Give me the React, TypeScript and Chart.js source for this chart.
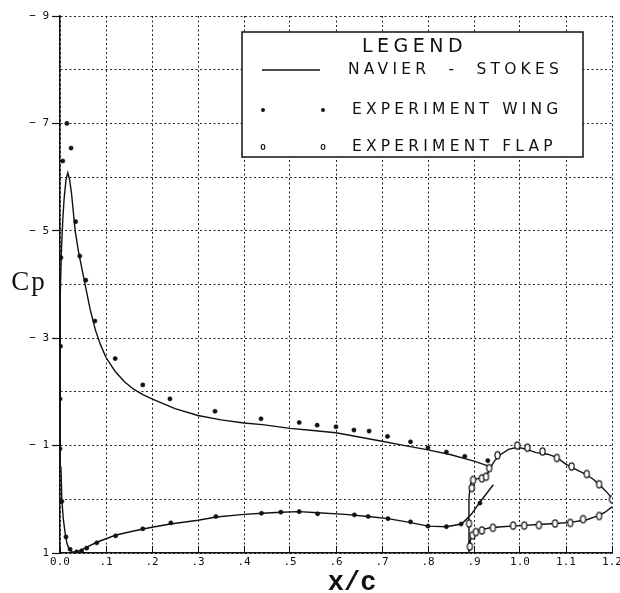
import { useEffect, useRef } from 'react';
import { Chart, registerables } from 'chart.js';

Chart.register(...registerables);

// ---- axis text ----
const xTickLabels = ['0.0', '.1', '.2', '.3', '.4', '.5', '.6', '.7', '.8', '.9', '1.0', '1.1', '1.2'];
const yTickValues = [-9, -8, -7, -6, -5, -4, -3, -2, -1, 0, 1];
const yTickLabels = ['− 9', '', '− 7', '', '− 5', '', '− 3', '', '− 1', '', '1'];
const xTitle = 'x/c';
const yTitle = 'Cp';
const legendTitle = 'LEGEND';
const seriesNames = ['NAVIER  -  STOKES', 'EXPERIMENT WING', 'EXPERIMENT FLAP'];

// ---- Navier-Stokes Cp, main wing: lower trailing edge -> leading edge -> upper trailing edge ----
const wingNavierStokes: [number, number][] = [
  [0.942, -0.27], [0.913, 0.05], [0.895, 0.27], [0.873, 0.46], [0.84, 0.51], [0.8, 0.5],
  [0.76, 0.43], [0.713, 0.36], [0.67, 0.32], [0.62, 0.28], [0.56, 0.25], [0.52, 0.23],
  [0.48, 0.24], [0.44, 0.26], [0.4, 0.28], [0.34, 0.33], [0.3, 0.39], [0.24, 0.46],
  [0.2, 0.52], [0.16, 0.59], [0.12, 0.67], [0.08, 0.8], [0.058, 0.89], [0.047, 0.94],
  [0.036, 0.98], [0.027, 0.98], [0.02, 0.93], [0.015, 0.82], [0.011, 0.62], [0.007, 0.35],
  [0.004, 0.0], [0.002, -0.6], [0.001, -1.4], [0.0, -2.2], [0.0, -3.0], [0.001, -3.8],
  [0.003, -4.6], [0.006, -5.2], [0.009, -5.6], [0.013, -5.95], [0.017, -6.08], [0.021, -5.95],
  [0.025, -5.7], [0.029, -5.35], [0.033, -5.0], [0.04, -4.62], [0.051, -4.15], [0.066, -3.52],
  [0.077, -3.15], [0.088, -2.88], [0.1, -2.64], [0.12, -2.38], [0.14, -2.19], [0.16, -2.05],
  [0.18, -1.95], [0.2, -1.87], [0.25, -1.69], [0.3, -1.56], [0.35, -1.48], [0.4, -1.42],
  [0.44, -1.39], [0.5, -1.32], [0.55, -1.28], [0.6, -1.24], [0.65, -1.16], [0.7, -1.08],
  [0.75, -1.0], [0.8, -0.92], [0.85, -0.83], [0.9, -0.71], [0.935, -0.61],
];

// ---- Navier-Stokes Cp, flap: lower trailing edge -> leading edge -> upper trailing edge ----
const flapNavierStokes: [number, number][] = [
  [1.2, 0.14], [1.185, 0.24], [1.172, 0.3], [1.145, 0.38], [1.11, 0.43], [1.076, 0.45],
  [1.04, 0.47], [1.0, 0.49], [0.96, 0.51], [0.935, 0.53], [0.915, 0.57], [0.9, 0.62],
  [0.893, 0.72], [0.889, 0.98], [0.889, 0.5], [0.889, 0.0], [0.891, -0.2], [0.895, -0.36],
  [0.915, -0.4], [0.928, -0.45], [0.935, -0.58], [0.945, -0.72], [0.957, -0.83], [0.975, -0.93],
  [0.995, -0.97], [1.015, -0.93], [1.035, -0.87], [1.06, -0.84], [1.08, -0.78], [1.1, -0.65],
  [1.12, -0.56], [1.14, -0.48], [1.16, -0.37], [1.175, -0.25], [1.19, -0.12], [1.2, -0.02],
];

// ---- measured pressures on the wing ----
const wingUpperExperiment: [number, number][] = [
  [0.006, -6.3], [0.015, -7.0], [0.024, -6.54], [0.034, -5.17], [0.043, -4.53], [0.056, -4.08],
  [0.076, -3.32], [0.12, -2.62], [0.18, -2.13], [0.239, -1.87], [0.337, -1.64], [0.437, -1.5],
  [0.52, -1.43], [0.559, -1.38], [0.6, -1.35], [0.639, -1.29], [0.672, -1.27], [0.712, -1.17],
  [0.762, -1.07], [0.8, -0.96], [0.84, -0.88], [0.88, -0.8], [0.93, -0.72],
];
const wingLowerExperiment: [number, number][] = [
  [0.002, -4.5], [0.001, -2.85], [0.0, -1.87], [0.0, -0.94], [0.004, 0.04], [0.013, 0.7],
  [0.022, 0.93], [0.036, 0.98], [0.047, 0.96], [0.058, 0.91], [0.08, 0.81], [0.121, 0.68],
  [0.18, 0.55], [0.241, 0.44], [0.339, 0.32], [0.438, 0.26], [0.48, 0.24], [0.52, 0.23],
  [0.56, 0.27], [0.64, 0.29], [0.67, 0.32], [0.713, 0.36], [0.762, 0.42], [0.8, 0.5],
  [0.84, 0.51], [0.872, 0.46], [0.913, 0.07],
];

// ---- measured pressures on the flap ----
const flapUpperExperiment: [number, number][] = [
  [0.891, 0.88], [0.889, 0.45], [0.895, -0.21], [0.898, -0.36], [0.917, -0.39], [0.926, -0.42],
  [0.933, -0.58], [0.951, -0.82], [0.994, -1.0], [1.016, -0.96], [1.049, -0.89], [1.08, -0.77],
  [1.112, -0.61], [1.145, -0.47], [1.172, -0.28], [1.2, -0.0],
];
const flapLowerExperiment: [number, number][] = [
  [0.897, 0.67], [0.904, 0.61], [0.917, 0.58], [0.941, 0.53], [0.985, 0.49], [1.009, 0.49],
  [1.041, 0.48], [1.076, 0.45], [1.109, 0.44], [1.137, 0.37], [1.172, 0.31],
];

const INK = '#111';
const GRID = '#222';

const toXY = (pts: [number, number][]) => pts.map(([x, y]) => ({ x, y }));

const yLabelFor = (v: number) => {
  const i = yTickValues.indexOf(Math.round(v));
  return i >= 0 ? yTickLabels[i] : '';
};

// open "0"-shaped marker used for the flap taps
function makeOvalMarker(rx: number, ry: number): HTMLCanvasElement {
  const c = document.createElement('canvas');
  c.width = Math.ceil(rx * 2 + 3);
  c.height = Math.ceil(ry * 2 + 3);
  const g = c.getContext('2d')!;
  g.beginPath();
  g.ellipse(c.width / 2, c.height / 2, rx, ry, 0, 0, Math.PI * 2);
  g.fillStyle = '#fff';
  g.fill();
  g.lineWidth = 1.2;
  g.strokeStyle = INK;
  g.stroke();
  return c;
}

// axis titles and the boxed legend
const decorations = {
  id: 'cpDecorations',
  afterDraw(chart: any) {
    const { ctx, scales } = chart;
    ctx.save();
    ctx.fillStyle = INK;

    // Cp, written horizontally beside the y axis
    ctx.font = '27px "Liberation Serif"';
    (ctx as any).letterSpacing = '2px';
    ctx.textAlign = 'center';
    ctx.textBaseline = 'alphabetic';
    ctx.fillText(yTitle, 29, scales.y.getPixelForValue(-4) + 5);

    // x/c under the x axis
    (ctx as any).letterSpacing = '0px';
    ctx.font = 'bold 27px "Liberation Mono"';
    ctx.fillText(xTitle, scales.x.getPixelForValue(0.635), 590);

    // legend box
    const L = { left: 242, top: 32, right: 583, bottom: 157 };
    ctx.fillStyle = '#fff';
    ctx.fillRect(L.left, L.top, L.right - L.left, L.bottom - L.top);
    ctx.lineWidth = 1.5;
    ctx.strokeStyle = INK;
    ctx.strokeRect(L.left, L.top, L.right - L.left, L.bottom - L.top);

    ctx.fillStyle = INK;
    ctx.textBaseline = 'middle';
    ctx.font = '19px "DejaVu Sans"';
    (ctx as any).letterSpacing = '4.5px';
    ctx.textAlign = 'center';
    ctx.fillText(legendTitle, (L.left + L.right) / 2 + 2, 47);

    ctx.font = '15.5px "DejaVu Sans"';
    (ctx as any).letterSpacing = '4.2px';
    ctx.textAlign = 'left';
    const rows = [70, 110, 147];
    const m1 = 263;
    const m2 = 323;

    // row 1: solid line
    ctx.lineWidth = 1.5;
    ctx.beginPath();
    ctx.moveTo(262, rows[0]);
    ctx.lineTo(320, rows[0]);
    ctx.stroke();
    ctx.fillText(seriesNames[0], 348, rows[0]);

    // row 2: filled dots
    [m1, m2].forEach((mx) => {
      ctx.beginPath();
      ctx.arc(mx, rows[1], 2, 0, Math.PI * 2);
      ctx.fill();
    });
    ctx.fillText(seriesNames[1], 352, rows[1]);

    // row 3: small open ovals
    ctx.lineWidth = 1.1;
    [m1, m2].forEach((mx) => {
      ctx.beginPath();
      ctx.ellipse(mx, rows[2], 1.8, 2.5, 0, 0, Math.PI * 2);
      ctx.stroke();
    });
    ctx.fillText(seriesNames[2], 352, rows[2]);

    ctx.restore();
  },
};

export default function App() {
  const canvasRef = useRef<HTMLCanvasElement | null>(null);

  useEffect(() => {
    const canvas = canvasRef.current;
    if (!canvas) return;
    const oval = makeOvalMarker(2.6, 3.6);

    const tickFont = { family: '"DejaVu Sans Mono"', size: 11 };

    const chart = new Chart(canvas, {
      type: 'scatter',
      data: {
        datasets: [
          {
            label: seriesNames[1],
            data: toXY([...wingUpperExperiment, ...wingLowerExperiment]),
            pointStyle: 'circle',
            pointRadius: 2.1,
            pointBackgroundColor: INK,
            pointBorderColor: INK,
            pointBorderWidth: 0.6,
            showLine: false,
          },
          {
            label: seriesNames[2],
            data: toXY([...flapUpperExperiment, ...flapLowerExperiment]),
            pointStyle: oval,
            pointRadius: 4,
            showLine: false,
          },
          {
            label: seriesNames[0],
            data: toXY(wingNavierStokes),
            showLine: true,
            borderColor: INK,
            borderWidth: 1.4,
            pointRadius: 0,
            tension: 0,
          },
          {
            label: seriesNames[0] + ' (flap)',
            data: toXY(flapNavierStokes),
            showLine: true,
            borderColor: INK,
            borderWidth: 1.4,
            pointRadius: 0,
            tension: 0,
          },
        ],
      },
      options: {
        responsive: false,
        animation: false,
        layout: { padding: { top: 16, right: 8, bottom: 0, left: 0 } },
        plugins: {
          legend: { display: false },
          tooltip: { enabled: false },
          title: { display: false },
        },
        scales: {
          x: {
            type: 'linear',
            min: 0,
            max: 1.2,
            afterFit: (scale: any) => {
              scale.height = 40;
              scale.paddingLeft = 0;
              scale.paddingRight = 0;
            },
            ticks: {
              stepSize: 0.1,
              autoSkip: false,
              maxRotation: 0,
              padding: 10,
              color: INK,
              font: tickFont,
              callback: (_v: any, i: number) => xTickLabels[i] ?? '',
            },
            grid: {
              color: GRID,
              lineWidth: 1,
              drawTicks: true,
              tickLength: -7,
              tickColor: INK,
              tickWidth: 1,
            },
            border: { display: true, color: INK, width: 1.5, dash: [2, 2.5] },
          },
          y: {
            type: 'linear',
            reverse: true,
            min: -9,
            max: 1,
            afterFit: (scale: any) => {
              scale.width = 60;
              scale.paddingTop = 0;
              scale.paddingBottom = 0;
            },
            ticks: {
              stepSize: 1,
              autoSkip: false,
              padding: 3,
              color: INK,
              font: tickFont,
              callback: (v: any) => yLabelFor(Number(v)),
            },
            grid: {
              color: GRID,
              lineWidth: 1,
              drawTicks: true,
              tickLength: 8,
              tickColor: (c: any) => (c.tick && yLabelFor(c.tick.value) ? INK : 'rgba(0,0,0,0)'),
              tickWidth: 1.2,
            },
            border: { display: true, color: INK, width: 1.5, dash: [2, 2.5] },
          },
        },
      },
      plugins: [decorations],
    } as any);

    return () => chart.destroy();
  }, []);

  return (
    <canvas
      ref={canvasRef}
      width={620}
      height={593}
      style={{ position: 'absolute', left: 0, top: 0, display: 'block', background: '#fff' }}
    />
  );
}
